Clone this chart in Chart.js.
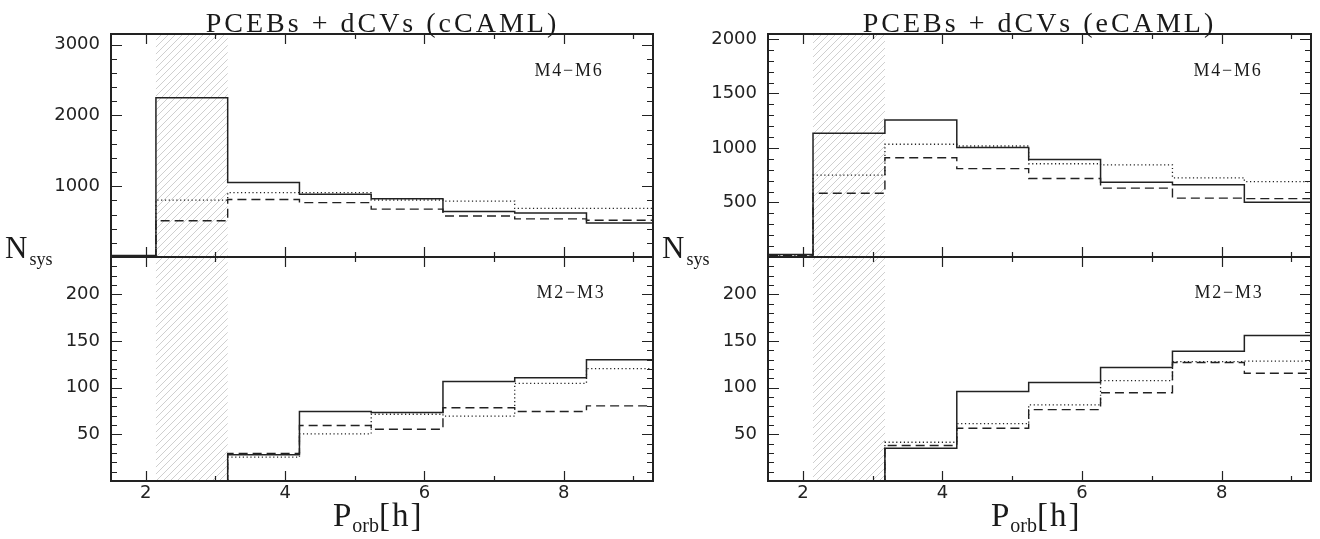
<!DOCTYPE html>
<html>
<head>
<meta charset="utf-8">
<script src="https://cdn.jsdelivr.net/npm/chart.js@4/dist/chart.umd.min.js"></script>
<style>
  html, body { margin: 0; padding: 0; background: #fff; }
  #wrap { position: relative; width: 1320px; height: 539px; overflow: hidden; }
  canvas { position: absolute; }
  .txt { position: absolute; font-family: "Liberation Serif", serif; color: #1a1a1a; white-space: nowrap; }
  .title { font-size: 28px; line-height: 28px; letter-spacing: 3px; text-align: center; width: 543px; top: 9px; }
  .tag { font-size: 18px; line-height: 18px; letter-spacing: 1.8px; transform: translateX(-50%); }
  .nsys { font-size: 31px; line-height: 30px; }
  .nsys span { font-size: 18px; position: relative; top: 7px; margin-left: 2px; }
  .porb { font-size: 33px; line-height: 33px; }
  .porb .s { font-size: 20px; position: relative; top: 6px; margin-left: 1px; }
  .porb .b { letter-spacing: 2px; }
</style>
</head>
<body>
<div id="wrap">
  <canvas id="c-tl" width="660" height="282" style="left:0;top:0"></canvas>
  <canvas id="c-bl" width="660" height="307" style="left:0;top:232px"></canvas>
  <canvas id="c-tr" width="660" height="282" style="left:660px;top:0"></canvas>
  <canvas id="c-br" width="660" height="307" style="left:660px;top:232px"></canvas>

  <div class="txt title" style="left:111px">PCEBs + dCVs (cCAML)</div>
  <div class="txt title" style="left:768px">PCEBs + dCVs (eCAML)</div>
  <div class="txt tag" style="left:569px;top:61px">M4−M6</div>
  <div class="txt tag" style="left:1228px;top:61px">M4−M6</div>
  <div class="txt tag" style="left:571px;top:283px">M2−M3</div>
  <div class="txt tag" style="left:1229px;top:283px">M2−M3</div>
  <div class="txt nsys" style="left:5px;top:233px">N<span>sys</span></div>
  <div class="txt nsys" style="left:662px;top:233px">N<span>sys</span></div>
  <div class="txt porb" style="left:333px;top:499px">P<span class="s">orb</span><span class="b">[h]</span></div>
  <div class="txt porb" style="left:991px;top:499px">P<span class="s">orb</span><span class="b">[h]</span></div>
</div>

<script>
// bin edges of the histograms (P_orb in hours); the 2nd bin is the period gap
const binEdges = [1.115, 2.145, 3.175, 4.205, 5.235, 6.265, 7.295, 8.325, 9.355];
const gapFrom = binEdges[1];
const gapTo = binEdges[2];

// PCEBs + dCVs (cCAML), M4-M6
const cHiSolid  = [20, 2250, 1052, 886, 823, 642, 623, 481];
const cHiDotted = [12, 804, 910, 910, 805, 790, 686, 686];
const cHiDashed = [10, 512, 812, 768, 676, 580, 538, 519];

// PCEBs + dCVs (cCAML), M2-M3
const cLoSolid  = [0, 0, 28, 74.5, 73.5, 106.5, 110.5, 130];
const cLoDotted = [0, 0, 25.5, 50.5, 71.5, 69.5, 104.5, 120.5];
const cLoDashed = [0, 0, 29.5, 59.5, 55.5, 78.5, 74.5, 80.5];

// PCEBs + dCVs (eCAML), M4-M6
const eHiSolid  = [22, 1135, 1257, 1004, 893, 685, 662, 502];
const eHiDotted = [14, 750, 1034, 1018, 855, 845, 726, 692];
const eHiDashed = [12, 584, 910, 810, 720, 632, 540, 535];

// PCEBs + dCVs (eCAML), M2-M3
const eLoSolid  = [0, 0, 35, 96, 105.5, 121.5, 139, 156];
const eLoDotted = [0, 0, 41.5, 61.5, 81.5, 107.5, 128, 128.5];
const eLoDashed = [0, 0, 38, 56.5, 76.5, 94.5, 127, 115.5];

// axes
const xTickLabels = [2, 4, 6, 8];
const xMinorTicks = [3, 5, 7, 9];
const yTicksHiC = [1000, 2000, 3000];
const yTicksHiE = [500, 1000, 1500, 2000];
const yTicksLo = [50, 100, 150, 200];

const ink = '#222';
const tickFont = { family: 'DejaVu Sans', size: 18 };

// histogram outline: each edge carries the value of the bin to its right
function steps(vals) {
  return binEdges.map((e, i) => ({ x: e, y: vals[Math.min(i, vals.length - 1)] }));
}

const hatch = {
  id: 'hatch',
  beforeDatasetsDraw(chart) {
    const { ctx, chartArea: a, scales: { x } } = chart;
    const x0 = x.getPixelForValue(gapFrom), x1 = x.getPixelForValue(gapTo);
    const oy = chart.canvas.offsetTop;
    const yt = a.top + oy, yb = a.bottom + oy;
    const gap = 7;
    ctx.save();
    ctx.beginPath();
    ctx.rect(x0, a.top, x1 - x0, a.bottom - a.top);
    ctx.clip();
    ctx.strokeStyle = '#cfcfcf';
    ctx.lineWidth = 1;
    ctx.beginPath();
    for (let c = Math.floor((x0 + yt) / gap) * gap; c <= x1 + yb; c += gap) {
      ctx.moveTo(c - yb, a.bottom);
      ctx.lineTo(c - yt, a.top);
    }
    ctx.stroke();
    ctx.restore();
  }
};

// frame + inward ticks on all four sides
const frame = {
  id: 'frame',
  afterDatasetsDraw(chart, args, o) {
    const { ctx, chartArea: a, scales: { x, y } } = chart;
    ctx.save();
    ctx.strokeStyle = ink;
    ctx.lineWidth = 1.2;
    ctx.beginPath();
    xTickLabels.concat(xMinorTicks).forEach(v => {
      const px = Math.round(x.getPixelForValue(v)) + 0.5;
      const len = xTickLabels.includes(v) ? 10 : 5;
      ctx.moveTo(px, a.top); ctx.lineTo(px, a.top + len);
      ctx.moveTo(px, a.bottom); ctx.lineTo(px, a.bottom - len);
    });
    for (let v = o.step; v < y.max; v += o.step) {
      const py = Math.round(y.getPixelForValue(v)) + 0.5;
      const len = o.major.includes(v) ? 11 : 6;
      ctx.moveTo(a.left, py); ctx.lineTo(a.left + len, py);
      ctx.moveTo(a.right, py); ctx.lineTo(a.right - len, py);
    }
    ctx.stroke();
    ctx.lineWidth = 2;
    ctx.strokeRect(a.left, a.top, a.right - a.left, a.bottom - a.top);
    ctx.restore();
  }
};

function panel(id, solid, dotted, dashed, p) {
  const base = { borderColor: ink, pointRadius: 0, stepped: 'before', fill: false };
  new Chart(document.getElementById(id), {
    type: 'line',
    data: {
      datasets: [
        Object.assign({ label: 'solid', data: steps(solid), borderWidth: 1.5 }, base),
        Object.assign({ label: 'dotted', data: steps(dotted), borderWidth: 1.3, borderDash: [1.2, 2.6] }, base),
        Object.assign({ label: 'dashed', data: steps(dashed), borderWidth: 1.4, borderDash: [9, 5] }, base)
      ]
    },
    options: {
      responsive: false,
      animation: false,
      events: [],
      layout: { padding: { top: p.bottom ? 25 : 34, bottom: p.bottom ? 0 : 25, left: 0, right: p.padRight } },
      plugins: {
        legend: { display: false },
        tooltip: { enabled: false },
        frame: { step: p.step, major: p.ticks }
      },
      scales: {
        x: {
          type: 'linear', min: 1.5, max: 9.28,
          afterBuildTicks: s => { s.ticks = xTickLabels.map(v => ({ value: v })); },
          afterFit: s => { s.height = p.bottom ? 58 : 0; },
          grid: { display: false, drawTicks: false },
          border: { display: false },
          ticks: { display: p.bottom, font: tickFont, color: ink, padding: 2, maxRotation: 0, autoSkip: false,
                   callback: v => String(v) }
        },
        y: {
          min: 0, max: p.max,
          afterBuildTicks: s => { s.ticks = p.ticks.map(v => ({ value: v })); },
          afterFit: s => { s.width = p.axisW; },
          grid: { display: false, drawTicks: false },
          border: { display: false },
          ticks: { font: tickFont, color: ink, padding: 11, autoSkip: false, callback: v => String(v) }
        }
      }
    },
    plugins: [hatch, frame]
  });
}

panel('c-tl', cHiSolid, cHiDotted, cHiDashed, { max: 3150, ticks: yTicksHiC, step: 200, axisW: 111, padRight: 7, bottom: false });
panel('c-bl', cLoSolid, cLoDotted, cLoDashed, { max: 240, ticks: yTicksLo, step: 10, axisW: 111, padRight: 7, bottom: true });
panel('c-tr', eHiSolid, eHiDotted, eHiDashed, { max: 2045, ticks: yTicksHiE, step: 100, axisW: 108, padRight: 9, bottom: false });
panel('c-br', eLoSolid, eLoDotted, eLoDashed, { max: 240, ticks: yTicksLo, step: 10, axisW: 108, padRight: 9, bottom: true });
</script>
</body>
</html>
